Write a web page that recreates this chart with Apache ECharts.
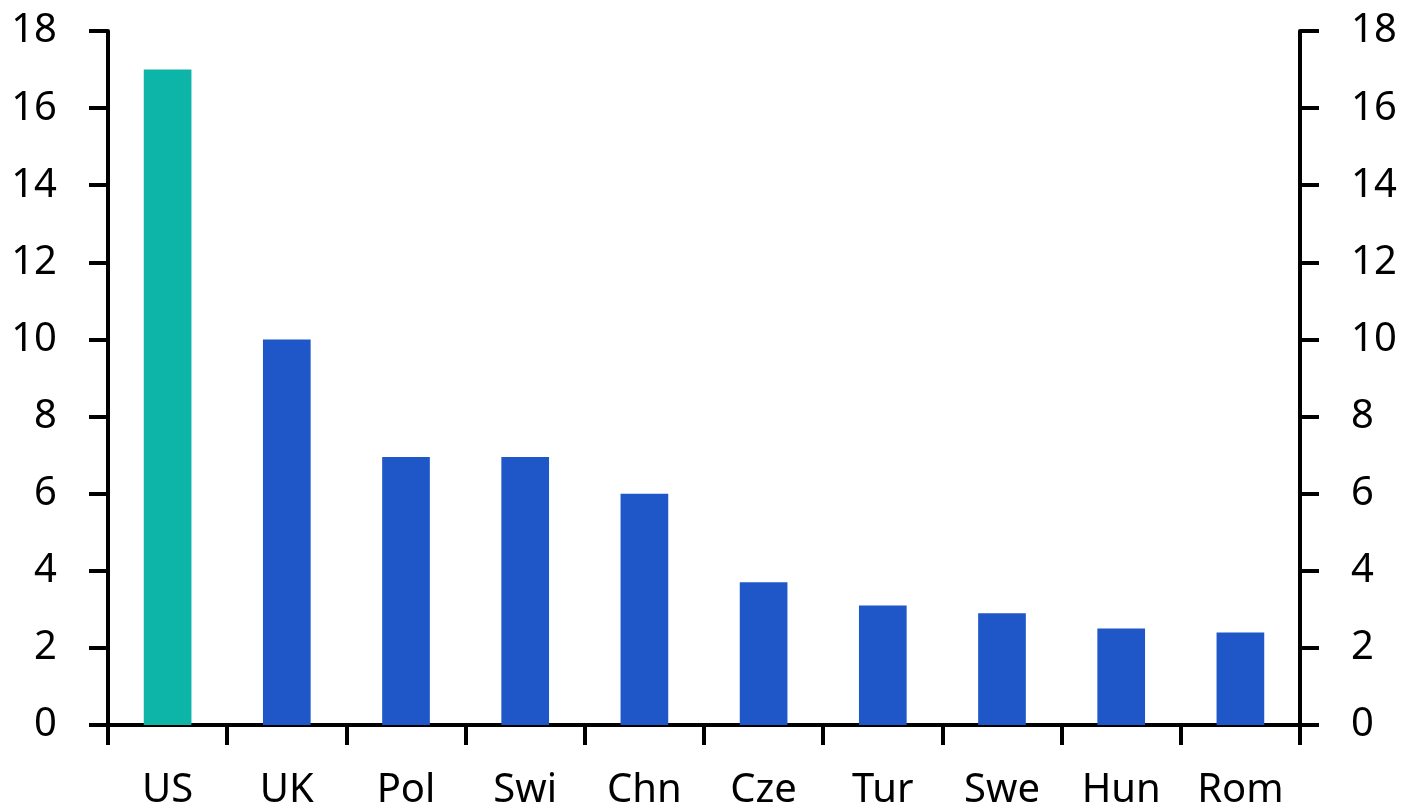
<!DOCTYPE html>
<html>
<head>
<meta charset="utf-8">
<script src="https://cdn.jsdelivr.net/npm/echarts@6/dist/echarts.min.js"></script>
<style>
  html, body { margin: 0; padding: 0; background: #fff; }
  #chart { width: 1416px; height: 812px; }
</style>
</head>
<body>
<div id="chart"></div>
<script>
// Countries along the horizontal axis
const categories = ['US', 'UK', 'Pol', 'Swi', 'Chn', 'Cze', 'Tur', 'Swe', 'Hun', 'Rom'];
// Bar values
const values = [17.0, 10.0, 6.95, 6.95, 6.0, 3.7, 3.1, 2.9, 2.5, 2.4];
// Countries drawn in the highlight colour
const highlighted = ['US'];

const BLUE = '#1F57C9';
const TEAL = '#0CB5A8';
const FONT = 'Noto Sans';
const LINE_W = 4;

const chart = echarts.init(document.getElementById('chart'));

const yAxisCommon = {
  type: 'value',
  min: 0,
  max: 18,
  interval: 2,
  splitLine: { show: false },
  axisLine: { show: true, lineStyle: { color: '#000', width: LINE_W } },
  axisTick: { show: true, length: 19, lineStyle: { color: '#000', width: LINE_W } },
  axisLabel: { color: '#000', fontSize: 40, fontFamily: FONT, margin: 51 }
};

chart.setOption({
  animation: false,
  grid: { left: 108, right: 116, top: 31, bottom: 87, containLabel: false },
  xAxis: {
    type: 'category',
    data: categories,
    boundaryGap: true,
    axisLine: { show: true, onZero: false, lineStyle: { color: '#000', width: LINE_W } },
    axisTick: { show: true, alignWithLabel: false, length: 20, lineStyle: { color: '#000', width: LINE_W } },
    axisLabel: { color: '#000', fontSize: 40, fontFamily: FONT, margin: 46, interval: 0 }
  },
  yAxis: [
    Object.assign({}, yAxisCommon, { position: 'left' }),
    Object.assign({}, yAxisCommon, { position: 'right' })
  ],
  series: [{
    type: 'bar',
    yAxisIndex: 0,
    barWidth: '40%',
    data: values.map((v, i) => ({
      value: v,
      itemStyle: { color: highlighted.includes(categories[i]) ? TEAL : BLUE }
    }))
  }]
});
</script>
</body>
</html>
